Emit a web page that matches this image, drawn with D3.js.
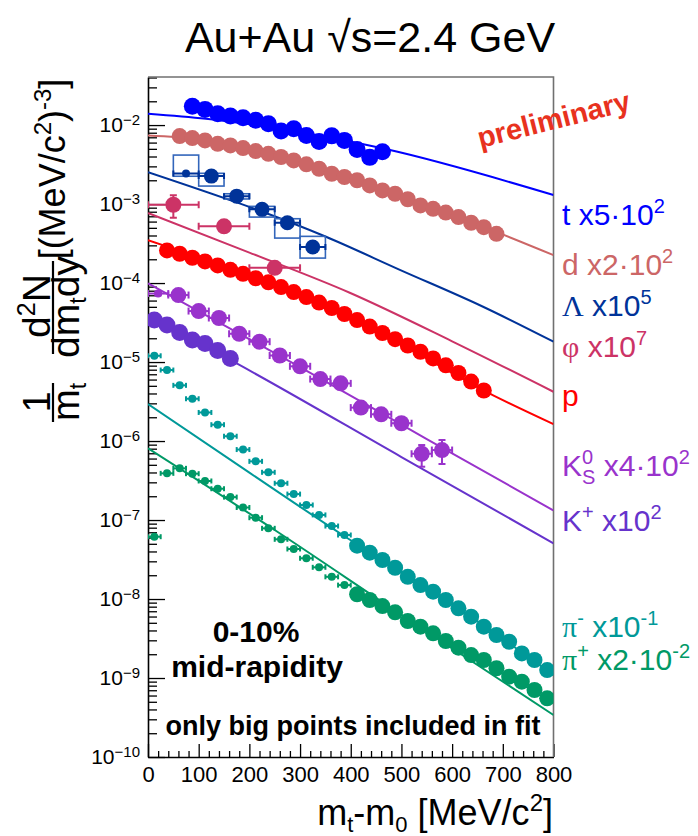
<!DOCTYPE html>
<html>
<head>
<meta charset="utf-8">
<script src="https://cdn.jsdelivr.net/npm/d3@7"></script>
<style>
  html, body { margin: 0; padding: 0; background: #fff; }
  svg { display: block; }
</style>
</head>
<body>
<svg id="chart" width="698" height="836"></svg>
<script>
// ---------------- measured spectra (1/mt d2N/dmt dy, scaled) ----------------
const tritonX = [87.5, 112.5, 137.5, 162.5, 187.5, 212.5, 237.5, 262.5, 287.5, 312.5, 337.5, 362.5, 387.5, 412.5, 437.5, 462.5];
const tritonY = [0.0173, 0.0158, 0.0139, 0.0130, 0.0124, 0.0115, 0.0104, 0.0084, 0.0090, 0.0074, 0.0062, 0.0073, 0.0064, 0.0049, 0.0039, 0.0046];

const deuteronX = [62.5, 87.5, 112.5, 137.5, 162.5, 187.5, 212.5, 237.5, 262.5, 287.5, 312.5, 337.5, 362.5,
                   387.5, 412.5, 437.5, 462.5, 487.5, 512.5, 537.5, 562.5, 587.5, 612.5, 637.5, 662.5, 687.5];
const deuteronY = [7.26e-3, 6.84e-3, 6.40e-3, 5.79e-3, 5.53e-3, 5.11e-3, 4.69e-3, 4.33e-3, 3.94e-3, 3.57e-3, 3.18e-3, 2.80e-3, 2.42e-3,
                   2.20e-3, 2.00e-3, 1.72e-3, 1.49e-3, 1.35e-3, 1.15e-3, 9.6e-4, 8.7e-4, 7.8e-4, 6.85e-4, 5.8e-4, 5.1e-4, 4.2e-4];

const lambdaX = [75, 125, 175, 225, 275, 325];
const lambdaXErr = [25, 25, 25, 25, 25, 25];
const lambdaY = [2.43e-3, 2.26e-3, 1.26e-3, 8.57e-4, 5.80e-4, 2.86e-4];
const lambdaSysLo = [2.25e-3, 1.69e-3, 1.16e-3, 6.84e-4, 3.71e-4, 2.07e-4];
const lambdaSysHi = [4.17e-3, 2.45e-3, 1.35e-3, 9.35e-4, 6.52e-4, 3.90e-4];
const lambdaInFit = [false, true, true, true, true, true];

const phiX = [50, 150, 250];
const phiXErr = [50, 50, 50];
const phiY = [9.8e-4, 5.22e-4, 1.56e-4];
const phiYLo = [6.71e-4, 4.9e-4, 1.45e-4];
const phiYHi = [1.29e-3, 5.6e-4, 1.68e-4];

const protonX = [37.5, 62.5, 87.5, 112.5, 137.5, 162.5, 187.5, 212.5, 237.5, 262.5, 287.5, 312.5, 337.5,
                 362.5, 387.5, 412.5, 437.5, 462.5, 487.5, 512.5, 537.5, 562.5, 587.5, 612.5, 637.5, 662.5];
const protonY = [2.59e-4, 2.35e-4, 2.09e-4, 1.88e-4, 1.67e-4, 1.47e-4, 1.31e-4, 1.15e-4, 1.02e-4, 8.9e-5, 7.69e-5, 6.65e-5, 5.66e-5,
                 4.83e-5, 4.06e-5, 3.40e-5, 2.81e-5, 2.33e-5, 1.95e-5, 1.62e-5, 1.35e-5, 1.11e-5, 9.08e-6, 7.26e-6, 5.66e-6, 4.36e-6];

const k0sX = [20, 60, 100, 140, 180, 220, 260, 300, 340, 380, 420, 460, 500, 540, 580];
const k0sXErr = [20, 20, 20, 20, 20, 20, 20, 20, 20, 20, 20, 20, 20, 20, 20];
const k0sY = [7.36e-5, 7.05e-5, 4.42e-5, 3.61e-5, 2.28e-5, 1.81e-5, 1.21e-5, 8.83e-6, 6.09e-6, 5.37e-6, 2.65e-6, 2.18e-6, 1.68e-6, 6.90e-7, 7.69e-7];
const k0sYLo = [7.0e-5, 6.6e-5, 4.1e-5, 3.35e-5, 2.12e-5, 1.68e-5, 1.12e-5, 8.2e-6, 5.6e-6, 4.95e-6, 2.4e-6, 1.98e-6, 1.45e-6, 4.73e-7, 5.12e-7];
const k0sYHi = [7.7e-5, 7.5e-5, 4.75e-5, 3.9e-5, 2.45e-5, 1.95e-5, 1.31e-5, 9.5e-6, 6.6e-6, 5.8e-6, 2.9e-6, 2.4e-6, 1.92e-6, 8.9e-7, 1.03e-6];
const k0sInFit = [false, true, true, true, true, true, true, true, true, true, true, true, true, true, true];

const kplusX = [12.5, 37.5, 62.5, 87.5, 112.5, 137.5, 162.5];
const kplusY = [3.40e-5, 2.94e-5, 2.36e-5, 1.90e-5, 1.72e-5, 1.40e-5, 1.11e-5];

const pionX = [12.5, 37.5, 62.5, 87.5, 112.5, 137.5, 162.5, 187.5, 212.5, 237.5, 262.5, 287.5, 312.5, 337.5, 362.5, 387.5,
               412.5, 437.5, 462.5, 487.5, 512.5, 537.5, 562.5, 587.5, 612.5, 637.5, 662.5, 687.5, 712.5, 737.5, 762.5, 787.5];
const pionXErr = 12.5;
const piMinusY = [1.20e-5, 7.92e-6, 5.07e-6, 3.43e-6, 2.30e-6, 1.61e-6, 1.15e-6, 7.80e-7, 5.53e-7, 4.02e-7, 2.92e-7, 2.13e-7, 1.55e-7, 1.16e-7, 8.39e-8, 6.46e-8,
                  4.73e-8, 3.86e-8, 3.12e-8, 2.49e-8, 1.91e-8, 1.50e-8, 1.24e-8, 9.71e-9, 7.62e-9, 5.97e-9, 4.46e-9, 3.50e-9, 2.88e-9, 2.05e-9, 1.69e-9, 1.26e-9];
const piPlusY = [6.15e-8, 3.90e-7, 4.51e-7, 3.86e-7, 3.12e-7, 2.49e-7, 1.95e-7, 1.44e-7, 1.07e-7, 7.85e-8, 5.70e-8, 4.30e-8, 3.28e-8, 2.52e-8, 1.91e-8, 1.50e-8,
                 1.15e-8, 9.71e-9, 8.15e-9, 6.79e-9, 5.27e-9, 4.46e-9, 3.68e-9, 2.94e-9, 2.42e-9, 1.95e-9, 1.69e-9, 1.33e-9, 1.04e-9, 8.98e-10, 7.05e-10, 5.53e-10];
const pionFitMin = 400;

// ---------------- fitted curves (sampled) ----------------
const tritonFitX = [0, 114, 250, 471, 800];
const tritonFitY = [0.0139, 0.0120, 0.00916, 0.00493, 0.0013];
const deuteronFitX = [0, 100, 200, 400, 600, 800];
const deuteronFitY = [7.4e-3, 6.58e-3, 4.89e-3, 2.10e-3, 7.36e-4, 2.26e-4];
const lambdaFitX = [0, 350, 498, 660, 800];
const lambdaFitY = [2.54e-3, 3.88e-4, 1.46e-4, 5.05e-5, 1.81e-5];
const phiFitX = [0, 200, 398, 600, 800];
const phiFitY = [7.69e-4, 2.43e-4, 7.53e-5, 1.83e-5, 4.2e-6];
const protonFitX = [0, 200, 400, 680, 800];
const protonFitY = [3.50e-4, 1.245e-4, 3.71e-5, 3.82e-6, 1.64e-6];
const k0sFitX = [0, 300, 550, 800];
const k0sFitY = [9.91e-5, 8.65e-6, 1.06e-6, 1.32e-7];
const kplusFitX = [0, 175, 500, 800];
const kplusFitY = [3.82e-5, 9.6e-6, 6.27e-7, 5.07e-8];
const piMinusFitX = [0, 200, 390, 600, 800];
const piMinusFitY = [2.94e-6, 3.98e-7, 6.10e-8, 8.65e-9, 1.09e-9];
const piPlusFitX = [0, 250, 500, 800];
const piPlusFitY = [8.09e-7, 7.47e-8, 6.3e-9, 3.40e-10];

// ---------------- axis setup ----------------
const xDomain = [0, 800];
const xMajorTicks = [0, 100, 200, 300, 400, 500, 600, 700, 800];
const yDomain = [1e-10, 0.0406];
const yDecades = [-10, -9, -8, -7, -6, -5, -4, -3, -2];

const SANS = "'Liberation Sans', Arial, Helvetica, sans-serif";
const SERIF = "'Liberation Serif', 'DejaVu Serif', 'Times New Roman', serif";

const svg = d3.select("#chart");
const frame = { l: 148, r: 553.5, t: 77, b: 757 };

const x = d3.scaleLinear().domain(xDomain).range([frame.l, frame.r]);
const y = d3.scaleLog().domain(yDomain).range([frame.b, frame.t]);

svg.append("defs").append("clipPath").attr("id", "plotClip")
  .append("rect").attr("x", frame.l).attr("y", frame.t)
  .attr("width", frame.r - frame.l).attr("height", frame.b - frame.t);

// text laid out piece by piece (super/subscripts, mixed fonts)
function rich(parent, parts, { x: px = 0, y: py = 0, anchor = "start", color = "#000", size = 30, weight = null, rotate = 0 } = {}) {
  const g = parent.append("g");
  let cx = 0, prevStart = 0, prevEnd = 0;
  parts.forEach(p => {
    const startX = p.stack ? prevStart : cx;
    const el = g.append("text")
      .attr("x", startX).attr("y", p.dy || 0)
      .attr("font-family", p.serif ? SERIF : SANS)
      .attr("font-size", p.size || size)
      .attr("font-weight", p.bold || weight)
      .attr("fill", color)
      .style("white-space", "pre")
      .text(p.t);
    const w = el.node().getComputedTextLength();
    if (p.stack) {
      cx = Math.max(prevEnd, startX + w);
    } else {
      prevStart = startX; prevEnd = startX + w; cx = startX + w;
    }
  });
  const shift = anchor === "middle" ? -cx / 2 : anchor === "end" ? -cx : 0;
  g.attr("transform", `translate(${px},${py}) rotate(${rotate}) translate(${shift},0)`);
  return g;
}

// ---------------- axes ----------------
const minorY = [];
yDecades.forEach(e => {
  for (let m = 2; m <= 9; m++) {
    const v = m * Math.pow(10, e);
    if (v <= yDomain[1]) minorY.push(v);
  }
});
const majorY = yDecades.map(e => Math.pow(10, e));

svg.append("g").attr("transform", `translate(${frame.l},0)`)
  .call(d3.axisLeft(y).tickValues(minorY).tickSize(-9).tickFormat(""))
  .call(g => g.select(".domain").remove())
  .call(g => g.selectAll("line").attr("stroke", "#000").attr("stroke-width", 1.3));

svg.append("g").attr("transform", `translate(${frame.l},0)`)
  .call(d3.axisLeft(y).tickValues(majorY).tickSizeInner(-17).tickSizeOuter(0).tickPadding(8))
  .call(g => g.select(".domain").attr("stroke", "#000").attr("stroke-width", 1.6))
  .call(g => g.selectAll("line").attr("stroke", "#000").attr("stroke-width", 1.3))
  .call(g => g.selectAll(".tick text")
    .attr("font-family", SANS).attr("font-size", 21).attr("fill", "#000")
    .each(function (d) {
      const e = Math.round(Math.log10(d));
      const t = d3.select(this);
      t.text("10");
      t.append("tspan").attr("dy", "-0.5em").attr("font-size", 15).text("\u2212" + Math.abs(e));
    }));

const minorX = d3.range(0, 801, 20).filter(v => v % 100 !== 0);
svg.append("g").attr("transform", `translate(0,${frame.b})`)
  .call(d3.axisBottom(x).tickValues(minorX).tickSize(-6).tickFormat(""))
  .call(g => g.select(".domain").remove())
  .call(g => g.selectAll("line").attr("stroke", "#000").attr("stroke-width", 1.3));

svg.append("g").attr("transform", `translate(0,${frame.b})`)
  .call(d3.axisBottom(x).tickValues(xMajorTicks).tickSizeInner(-13).tickSizeOuter(0).tickPadding(9).tickFormat(d3.format("d")))
  .call(g => g.select(".domain").attr("stroke", "#000").attr("stroke-width", 1.6))
  .call(g => g.selectAll("line").attr("stroke", "#000").attr("stroke-width", 1.3))
  .call(g => g.selectAll(".tick text").attr("font-family", SANS).attr("font-size", 22).attr("fill", "#000"));

// top and right frame
svg.append("path")
  .attr("d", `M${frame.l},${frame.t}H${frame.r}V${frame.b}`)
  .attr("fill", "none").attr("stroke", "#707070").attr("stroke-width", 1.6);

// ---------------- fits ----------------
const plot = svg.append("g").attr("clip-path", "url(#plotClip)");
const line = d3.line().x(d => x(d[0])).y(d => y(d[1])).curve(d3.curveMonotoneX);

const fits = [
  { fx: tritonFitX, fy: tritonFitY, color: "#0000ff" },
  { fx: deuteronFitX, fy: deuteronFitY, color: "#cc6666" },
  { fx: lambdaFitX, fy: lambdaFitY, color: "#003399" },
  { fx: phiFitX, fy: phiFitY, color: "#cc3366" },
  { fx: protonFitX, fy: protonFitY, color: "#ff0000" },
  { fx: k0sFitX, fy: k0sFitY, color: "#9933cc" },
  { fx: kplusFitX, fy: kplusFitY, color: "#6633cc" },
  { fx: piMinusFitX, fy: piMinusFitY, color: "#009999" },
  { fx: piPlusFitX, fy: piPlusFitY, color: "#009966" }
];
fits.forEach(f => {
  plot.append("path")
    .datum(d3.zip(f.fx, f.fy))
    .attr("d", line)
    .attr("fill", "none")
    .attr("stroke", f.color)
    .attr("stroke-width", 2);
});

// ---------------- markers ----------------
function dots(xs, ys, color, r) {
  plot.append("g").selectAll("circle")
    .data(d3.zip(xs, ys)).join("circle")
    .attr("cx", d => x(d[0])).attr("cy", d => y(d[1]))
    .attr("r", r).attr("fill", color);
}
function hBars(g, xs, xe, ys, color, cap) {
  d3.zip(xs, xe, ys).forEach(([xv, e, yv]) => {
    const x0 = x(xv - e), x1 = x(xv + e), yy = y(yv);
    g.append("line").attr("x1", x0).attr("x2", x1).attr("y1", yy).attr("y2", yy)
      .attr("stroke", color).attr("stroke-width", 2);
    [x0, x1].forEach(xc => g.append("line").attr("x1", xc).attr("x2", xc)
      .attr("y1", yy - cap).attr("y2", yy + cap).attr("stroke", color).attr("stroke-width", 2));
  });
}
function vBars(g, xs, lo, hi, color, cap) {
  d3.zip(xs, lo, hi).forEach(([xv, l, h]) => {
    const xx = x(xv), y0 = y(l), y1 = y(h);
    g.append("line").attr("x1", xx).attr("x2", xx).attr("y1", y0).attr("y2", y1)
      .attr("stroke", color).attr("stroke-width", 2);
    [y0, y1].forEach(yc => g.append("line").attr("x1", xx - cap).attr("x2", xx + cap)
      .attr("y1", yc).attr("y2", yc).attr("stroke", color).attr("stroke-width", 2));
  });
}

// tritons, deuterons
dots(tritonX, tritonY, "#0000ff", 8.5);
dots(deuteronX, deuteronY, "#cc6666", 8);

// Lambda with systematic boxes
const lamG = plot.append("g");
d3.zip(lambdaX, lambdaXErr, lambdaSysLo, lambdaSysHi).forEach(([xv, e, lo, hi]) => {
  lamG.append("rect")
    .attr("x", x(xv - e)).attr("width", x(xv + e) - x(xv - e))
    .attr("y", y(hi)).attr("height", y(lo) - y(hi))
    .attr("fill", "none").attr("stroke", "#3366bb").attr("stroke-width", 1.6);
});
hBars(lamG, lambdaX, lambdaXErr, lambdaY, "#003399", 3);
lamG.selectAll("circle.lam").data(d3.zip(lambdaX, lambdaY, lambdaInFit)).join("circle")
  .attr("cx", d => x(d[0])).attr("cy", d => y(d[1]))
  .attr("r", d => d[2] ? 7.5 : 4).attr("fill", "#003399");

// phi
const phiG = plot.append("g");
hBars(phiG, phiX, phiXErr, phiY, "#cc3366", 3.5);
vBars(phiG, phiX, phiYLo, phiYHi, "#cc3366", 3.5);
dots(phiX, phiY, "#cc3366", 8);

// protons
dots(protonX, protonY, "#ff0000", 8);

// K0s
const k0G = plot.append("g");
hBars(k0G, k0sX, k0sXErr, k0sY, "#9933cc", 3.5);
vBars(k0G, k0sX, k0sYLo, k0sYHi, "#9933cc", 3.5);
k0G.selectAll("circle").data(d3.zip(k0sX, k0sY, k0sInFit)).join("circle")
  .attr("cx", d => x(d[0])).attr("cy", d => y(d[1]))
  .attr("r", d => d[2] ? 8 : 4).attr("fill", "#9933cc");

// K+
dots(kplusX, kplusY, "#6633cc", 8.5);

// pions: small points outside the fit range carry their bin width
function pions(ys, color) {
  const g = plot.append("g");
  const pts = d3.zip(pionX, ys);
  const small = pts.filter(d => d[0] < pionFitMin);
  hBars(g, small.map(d => d[0]), small.map(() => pionXErr), small.map(d => d[1]), color, 2.5);
  g.selectAll("circle").data(pts).join("circle")
    .attr("cx", d => x(d[0])).attr("cy", d => y(d[1]))
    .attr("r", d => d[0] < pionFitMin ? 4 : 8).attr("fill", color);
}
pions(piMinusY, "#009999");
pions(piPlusY, "#009966");

// ---------------- labels ----------------
rich(svg, [{ t: "Au+Au \u221As=2.4 GeV" }], { x: 370, y: 52, anchor: "middle", size: 43 });

// x title
rich(svg, [
  { t: "m" }, { t: "t", size: 22, dy: 7 }, { t: "-m" }, { t: "0", size: 22, dy: 7 },
  { t: " [MeV/c" }, { t: "2", size: 24, dy: -14 }, { t: "]" }
], { x: 553, y: 825, anchor: "end", size: 36 });

// y title (rotated fraction form)
rich(svg, [{ t: "1" }], { x: 50, y: 402, anchor: "middle", size: 38, rotate: -90 });
rich(svg, [{ t: "m" }, { t: "t", size: 23, dy: 7 }], { x: 79, y: 402, anchor: "middle", size: 38, rotate: -90 });
rich(svg, [{ t: "d" }, { t: "2", size: 25, dy: -15 }, { t: "N" }], { x: 50, y: 306, anchor: "middle", size: 39, rotate: -90 });
rich(svg, [{ t: "dm" }, { t: "t", size: 23, dy: 7 }, { t: "dy" }], { x: 79, y: 307, anchor: "middle", size: 39, rotate: -90 });
rich(svg, [{ t: "[(MeV/c" }, { t: "2", size: 24, dy: -14 }, { t: ")" }, { t: "-3", size: 24, dy: -14 }, { t: "]" }],
  { x: 65, y: 169, anchor: "middle", size: 36, rotate: -90 });
[[383, 422], [261, 354]].forEach(([a, b]) => {
  svg.append("line").attr("x1", 53).attr("x2", 53).attr("y1", a).attr("y2", b)
    .attr("stroke", "#000").attr("stroke-width", 2.2);
});

// species labels
const labels = [
  { color: "#0000ff", y: 225, parts: [{ t: "t x5\u00b710" }, { t: "2", size: 20, dy: -12 }] },
  { color: "#cc6666", y: 275, parts: [{ t: "d x2\u00b710" }, { t: "2", size: 20, dy: -12 }] },
  { color: "#003399", y: 316, parts: [{ t: "\u039b", serif: true }, { t: " x10" }, { t: "5", size: 20, dy: -12 }] },
  { color: "#cc3366", y: 357, parts: [{ t: "\u03c6", serif: true }, { t: " x10" }, { t: "7", size: 20, dy: -12 }] },
  { color: "#ff0000", y: 406, parts: [{ t: "p" }] },
  { color: "#9933cc", y: 476, parts: [{ t: "K" }, { t: "0", size: 20, dy: -12 }, { t: "S", size: 20, dy: 8, stack: true }, { t: " x4\u00b710" }, { t: "2", size: 20, dy: -12 }] },
  { color: "#6633cc", y: 531, parts: [{ t: "K" }, { t: "+", size: 20, dy: -12 }, { t: " x10" }, { t: "2", size: 20, dy: -12 }] },
  { color: "#009999", y: 637, parts: [{ t: "\u03c0", serif: true }, { t: "-", size: 20, dy: -12 }, { t: " x10" }, { t: "-1", size: 20, dy: -12 }] },
  { color: "#009966", y: 670, parts: [{ t: "\u03c0", serif: true }, { t: "+", size: 20, dy: -12 }, { t: " x2\u00b710" }, { t: "-2", size: 20, dy: -12 }] }
];
labels.forEach(l => rich(svg, l.parts, { x: 562, y: l.y, color: l.color, size: 30 }));

// plot annotations
rich(svg, [{ t: "preliminary" }], { x: 556, y: 129, anchor: "middle", size: 29, weight: "bold", color: "#e8321e", rotate: -14 });
rich(svg, [{ t: "0-10%" }], { x: 256, y: 642, anchor: "middle", size: 30, weight: "bold" });
rich(svg, [{ t: "mid-rapidity" }], { x: 257, y: 677, anchor: "middle", size: 30, weight: "bold" });
rich(svg, [{ t: "only big points included in fit" }], { x: 353, y: 735, anchor: "middle", size: 27, weight: "bold" });
</script>
</body>
</html>
